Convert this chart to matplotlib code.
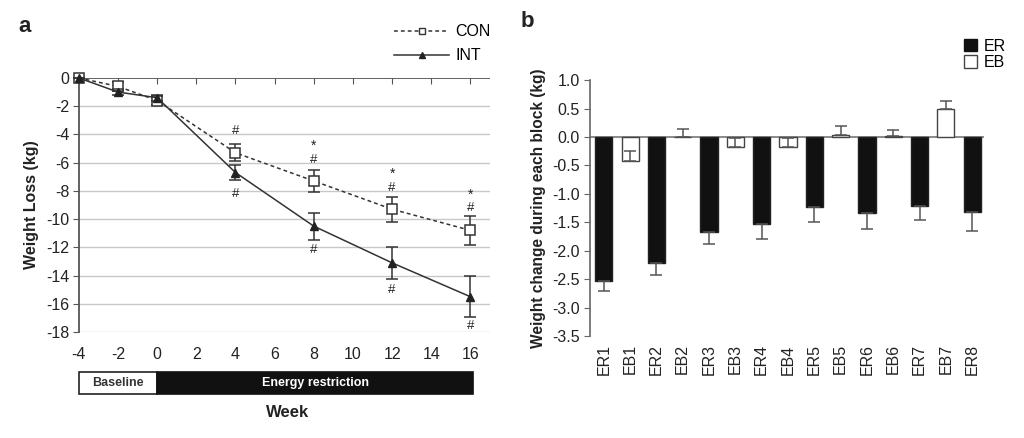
import matplotlib
matplotlib.use("Agg")
import matplotlib.pyplot as plt
import matplotlib.transforms as mtransforms
from matplotlib.patches import Rectangle
from matplotlib.lines import Line2D

plt.rcParams['font.family'] = ['Liberation Sans', 'DejaVu Sans']

# ---------- data panel a ----------
weeks = [-4, -2, 0, 4, 8, 12, 16]
con_mean = [0, -0.6, -1.6, -5.3, -7.3, -9.3, -10.8]
con_err = [0, 0.3, 0.3, 0.6, 0.8, 0.9, 1.0]
int_mean = [0, -1.0, -1.4, -6.7, -10.5, -13.1, -15.5]
int_err = [0, 0.2, 0.2, 0.5, 0.95, 1.15, 1.45]
# significance marks: (week, y, text)
marks_x = [4, 4, 8, 8, 8, 12, 12, 12, 16, 16, 16]
marks_y = [-3.75, -8.25, -4.8, -5.8, -12.2, -6.8, -7.8, -15.0, -8.3, -9.2, -17.6]
marks_t = ['#', '#', '*', '#', '#', '*', '#', '#', '*', '#', '#']
xticks_a = [-4, -2, 0, 2, 4, 6, 8, 10, 12, 14, 16]
yticks_a = [0, -2, -4, -6, -8, -10, -12, -14, -16, -18]

# ---------- data panel b ----------
blocks = ['ER1', 'EB1', 'ER2', 'EB2', 'ER3', 'EB3', 'ER4', 'EB4',
          'ER5', 'EB5', 'ER6', 'EB6', 'ER7', 'EB7', 'ER8']
changes = [-2.53, -0.42, -2.21, 0.00, -1.68, -0.18, -1.53, -0.18,
           -1.23, 0.03, -1.33, 0.02, -1.21, 0.49, -1.32]
change_err = [0.18, 0.18, 0.22, 0.14, 0.21, 0.16, 0.26, 0.16,
              0.26, 0.17, 0.28, 0.11, 0.25, 0.14, 0.33]
yticks_b = [1.0, 0.5, 0.0, -0.5, -1.0, -1.5, -2.0, -2.5, -3.0, -3.5]

dark = '#222222'
fig = plt.figure(figsize=(10.24, 4.38), dpi=100)

# ================= panel a =================
ax = fig.add_axes([0.077, 0.242, 0.4015, 0.580])
ax.set_xlim(-4, 17)
ax.set_ylim(-18, 0)
for y in yticks_a[1:]:
    ax.axhline(y, color='#c8c8c8', lw=1.0, zorder=0)
ax.axhline(0, color='#555555', lw=1.3, zorder=1)

ax.errorbar(weeks, con_mean, yerr=con_err, color='#333333', ls=(0, (2.5, 2)),
            lw=1.1, marker='s', ms=6.5, mfc='white', mec='#333333', mew=1.1,
            capsize=4, elinewidth=1.1, capthick=1.1, clip_on=False, zorder=3)
ax.errorbar(weeks, int_mean, yerr=int_err, color='#333333', ls='-',
            lw=1.1, marker='^', ms=6, mfc='#222222', mec='#222222',
            capsize=4, elinewidth=1.1, capthick=1.1, clip_on=False, zorder=4)
for x, y, t in zip(marks_x, marks_y, marks_t):
    ax.text(x, y, t, ha='center', va='center', fontsize=9.5 if t == '#' else 10,
            color=dark)

for s in ['right', 'bottom', 'top']:
    ax.spines[s].set_visible(False)
ax.spines['left'].set_color('#555555')
ax.spines['left'].set_linewidth(1.3)
ax.set_xticks(xticks_a)
ax.set_xticklabels([str(v) for v in xticks_a])
ax.set_yticks(yticks_a)
ax.set_yticklabels([str(v) for v in yticks_a])
ax.tick_params(axis='x', bottom=False, top=True, direction='in', length=4,
               labelbottom=True, labeltop=False, pad=11, labelsize=11.5,
               colors='#555555', labelcolor=dark)
ax.tick_params(axis='y', length=4, direction='out', labelsize=11.5,
               colors='#555555', labelcolor=dark, pad=3)
ax.set_ylabel('Weight Loss (kg)', fontsize=11.5, fontweight='bold', color=dark,
              labelpad=5)

# baseline / energy restriction bar
tr = mtransforms.blended_transform_factory(ax.transData, fig.transFigure)
y0, h = 0.1005, 0.0505
fig.add_artist(Rectangle((-4, y0), 4, h, transform=tr, facecolor='white',
                         edgecolor='#222222', lw=1.2))
fig.add_artist(Rectangle((0, y0), 16.15, h, transform=tr, facecolor='#111111',
                         edgecolor='#111111', lw=1.2))
fig.text(-2, y0 + h / 2, 'Baseline', transform=tr, ha='center', va='center',
         fontsize=9, fontweight='bold', color='#333333')
fig.text(8.1, y0 + h / 2, 'Energy restriction', transform=tr, ha='center',
         va='center', fontsize=9, fontweight='bold', color='white')
fig.text(0.281, 0.059, 'Week', ha='center', va='center', fontsize=12,
         fontweight='bold', color=dark)

handles_a = [
    Line2D([], [], color='#333333', ls=(0, (2.5, 2)), lw=1.1, marker='s', ms=5,
           mfc='white', mec='#333333'),
    Line2D([], [], color='#333333', ls='-', lw=1.1, marker='^', ms=5,
           mfc='#222222', mec='#222222'),
]
fig.legend(handles_a, ['CON', 'INT'], loc='center', bbox_to_anchor=(0.432, 0.9),
           frameon=False, fontsize=11.5, handlelength=3.4, handletextpad=0.4,
           labelspacing=0.55)

fig.text(0.018, 0.94, 'a', fontsize=16, fontweight='bold', va='center',
         color=dark)

# ================= panel b =================
bx = fig.add_axes([0.576, 0.233, 0.385, 0.584])
xs = list(range(len(blocks)))
for i, (lab, v, e) in enumerate(zip(blocks, changes, change_err)):
    is_er = lab.startswith('ER')
    bx.bar(i, v, width=0.65, color='#111111' if is_er else 'white',
           edgecolor='#222222' if is_er else '#444444', lw=1.0, zorder=2)
    if is_er:
        bx.errorbar(i, v, yerr=[[e], [0]], fmt='none', ecolor='#555555',
                    elinewidth=1.1, capsize=4, capthick=1.1, zorder=3)
    else:
        bx.errorbar(i, v, yerr=[[0], [e]], fmt='none', ecolor='#555555',
                    elinewidth=1.1, capsize=4, capthick=1.1, zorder=3)
bx.axhline(0, color='#777777', lw=1.2, zorder=1)
bx.set_xlim(-0.53, 14.45)
bx.set_ylim(-3.5, 1.0)
for s in ['right', 'bottom', 'top']:
    bx.spines[s].set_visible(False)
bx.spines['left'].set_color('#666666')
bx.spines['left'].set_linewidth(1.2)
bx.set_yticks(yticks_b)
bx.set_yticklabels(['%.1f' % v for v in yticks_b])
bx.set_xticks(xs)
bx.set_xticklabels(blocks, rotation=90)
bx.tick_params(axis='x', length=0, labelsize=11.5, labelcolor=dark, pad=6)
bx.tick_params(axis='y', length=4, direction='out', labelsize=11.5,
               colors='#666666', labelcolor=dark, pad=3)
bx.set_ylabel('Weight change during each block (kg)', fontsize=11.2,
              fontweight='bold', color=dark, labelpad=5)

handles_b = [Rectangle((0, 0), 1, 1, facecolor='#111111', edgecolor='#111111'),
             Rectangle((0, 0), 1, 1, facecolor='white', edgecolor='#444444')]
fig.legend(handles_b, ['ER', 'EB'], loc='center', bbox_to_anchor=(0.962, 0.876),
           frameon=False, fontsize=11.5, handlelength=0.8, handleheight=0.8,
           handletextpad=0.4, labelspacing=0.1)

fig.text(0.508, 0.952, 'b', fontsize=16, fontweight='bold', va='center',
         color=dark)

fig.savefig('out.png', dpi=100, facecolor='white')
